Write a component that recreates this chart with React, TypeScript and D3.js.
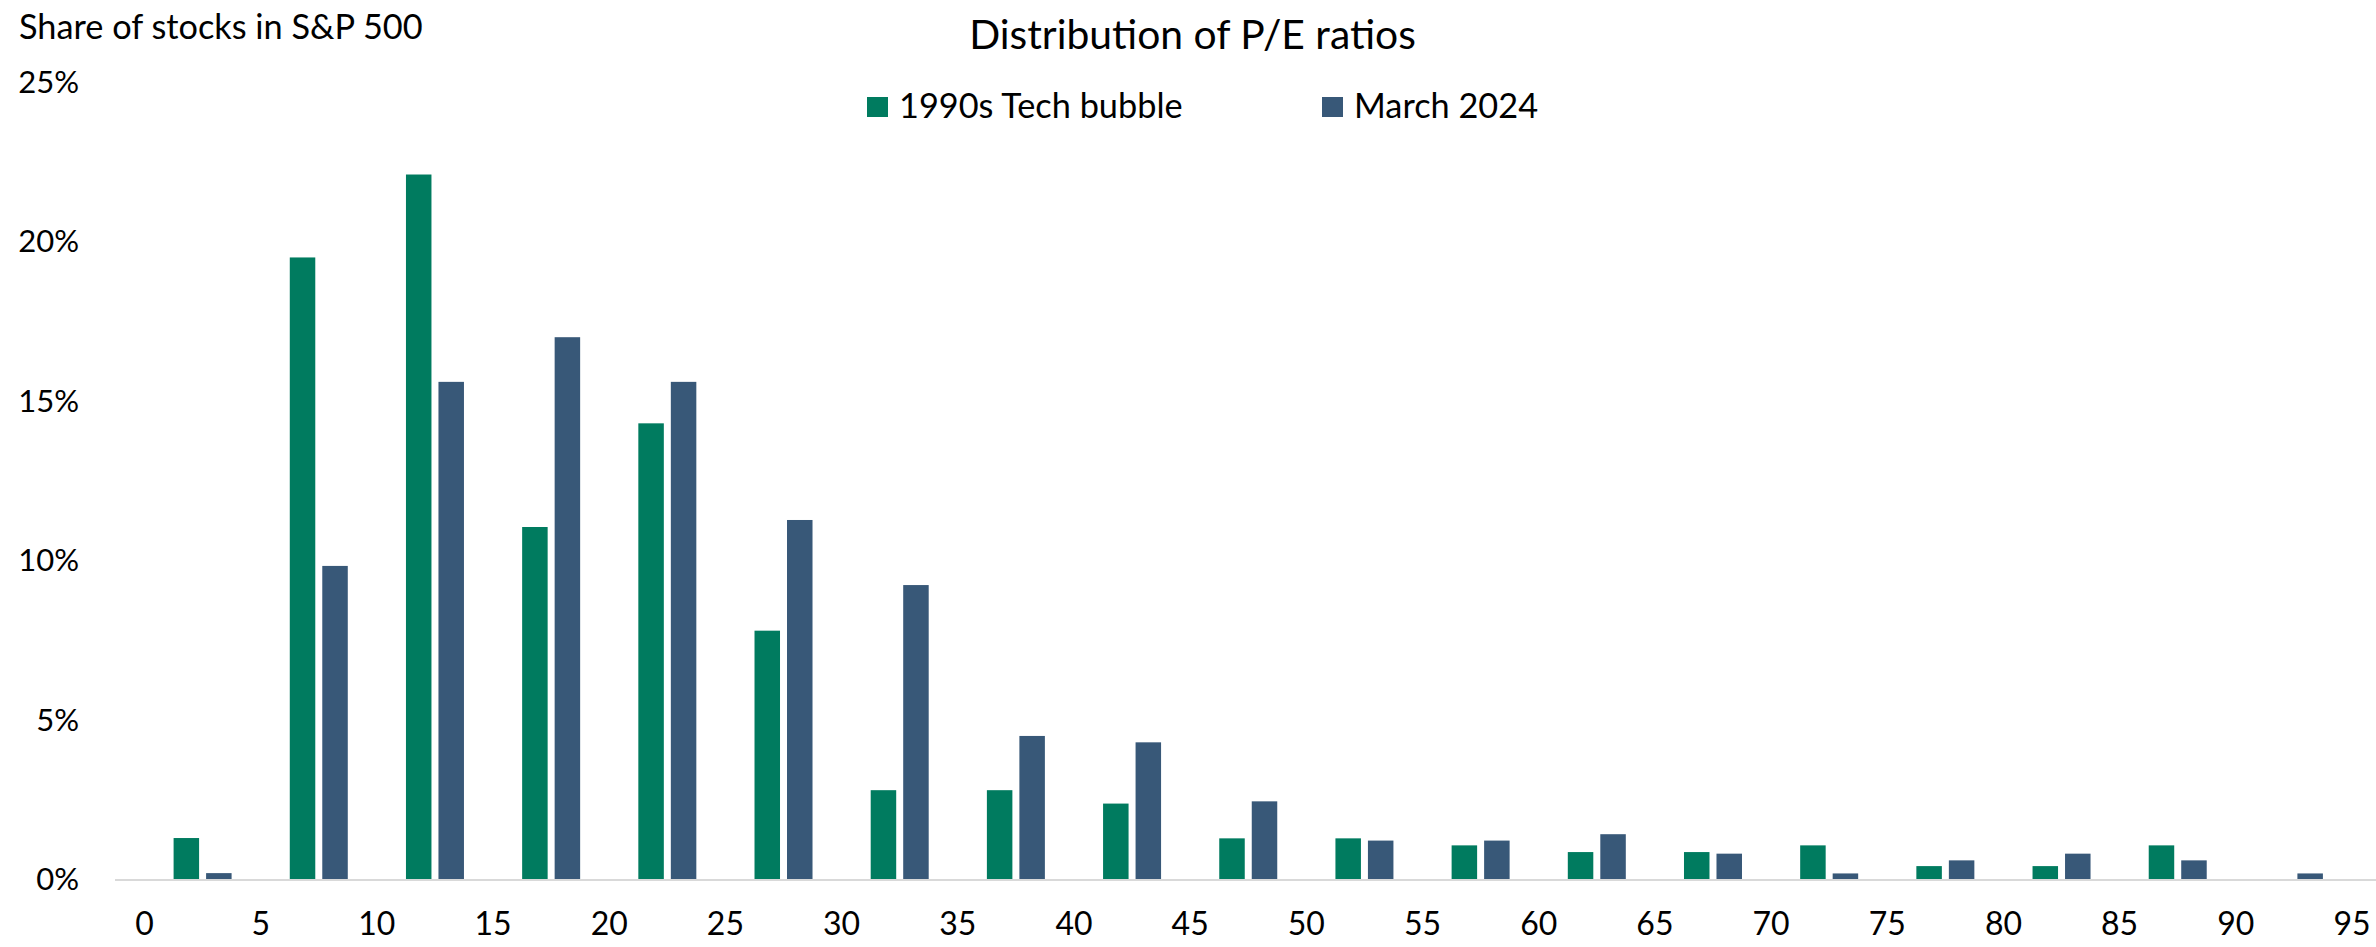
import React, { useRef, useEffect } from 'react';
import * as d3 from 'd3';

// P/E bins, 5 wide, lower edges
const binStarts = [0, 5, 10, 15, 20, 25, 30, 35, 40, 45, 50, 55, 60, 65, 70, 75, 80, 85, 90];
const techBubble = [1.3, 19.5, 22.1, 11.05, 14.3, 7.8, 2.8, 2.8, 2.38, 1.29, 1.29, 1.07, 0.86, 0.86, 1.07, 0.42, 0.42, 1.07, 0];
const march2024 = [0.2, 9.83, 15.6, 17.0, 15.6, 11.27, 9.23, 4.5, 4.3, 2.45, 1.22, 1.22, 1.42, 0.81, 0.19, 0.6, 0.81, 0.6, 0.19];
const xTicks = [0, 5, 10, 15, 20, 25, 30, 35, 40, 45, 50, 55, 60, 65, 70, 75, 80, 85, 90, 95];
const yTicks = [0, 5, 10, 15, 20, 25];
const seriesNames = ['1990s Tech bubble', 'March 2024'];
const colors = ['#007B5F', '#385878'];

const FONT = "Lato, 'Open Sans', sans-serif";

const App = () => {
  const svgRef = useRef<SVGSVGElement>(null);

  useEffect(() => {
    const svg = d3.select(svgRef.current);
    svg.selectAll('*').remove();

    const x = d3.scaleLinear().domain([0, 95]).range([144.5, 2352]);
    const y = d3.scaleLinear().domain([0, 25]).range([879.5, 82]);
    const barW = 25.5;
    const gap = 7;

    // bars
    const series = [techBubble, march2024];
    series.forEach((vals, s) => {
      svg.append('g')
        .selectAll('rect')
        .data(vals)
        .join('rect')
        .attr('x', (d, i) => {
          const c = x(binStarts[i] + 2.5);
          return s === 0 ? c - gap / 2 - barW : c + gap / 2;
        })
        .attr('y', d => y(d))
        .attr('width', barW)
        .attr('height', d => y(0) - y(d))
        .attr('fill', colors[s]);
    });

    // baseline
    svg.append('line')
      .attr('x1', 115)
      .attr('x2', 2376)
      .attr('y1', y(0) + 0.5)
      .attr('y2', y(0) + 0.5)
      .attr('stroke', '#d9d9d9')
      .attr('stroke-width', 2);

    // y tick labels
    svg.append('g')
      .selectAll('text')
      .data(yTicks)
      .join('text')
      .attr('x', 79)
      .attr('y', d => y(d))
      .attr('dy', '0.35em')
      .attr('text-anchor', 'end')
      .attr('font-size', 31)
      .attr('font-family', FONT)
      .attr('fill', '#000')
      .text(d => `${d}%`);

    // x tick labels
    svg.append('g')
      .selectAll('text')
      .data(xTicks)
      .join('text')
      .attr('x', d => x(d))
      .attr('y', 935)
      .attr('text-anchor', 'middle')
      .attr('font-size', 32)
      .attr('font-family', FONT)
      .attr('fill', '#000')
      .text(d => d);

    // axis title
    svg.append('text')
      .attr('x', 19)
      .attr('y', 39)
      .attr('font-size', 34.3)
      .attr('font-family', FONT)
      .text('Share of stocks in S&P 500');

    // chart title
    svg.append('text')
      .attr('x', 1192.5)
      .attr('y', 49)
      .attr('text-anchor', 'middle')
      .attr('font-size', 40.8)
      .attr('font-family', FONT)
      .text('Distribution of P/E ratios');

    // legend
    const legendX = [867, 1322];
    seriesNames.forEach((name, i) => {
      svg.append('rect')
        .attr('x', legendX[i])
        .attr('y', 97)
        .attr('width', 21)
        .attr('height', 20)
        .attr('fill', colors[i]);
      svg.append('text')
        .attr('x', legendX[i] + 32)
        .attr('y', 118)
        .attr('font-size', 34.3)
        .attr('font-family', FONT)
        .text(name);
    });
  }, []);

  return (
    <svg
      ref={svgRef}
      width={2376}
      height={947}
      style={{ position: 'fixed', top: 0, left: 0, background: '#fff' }}
    />
  );
};

export default App;
